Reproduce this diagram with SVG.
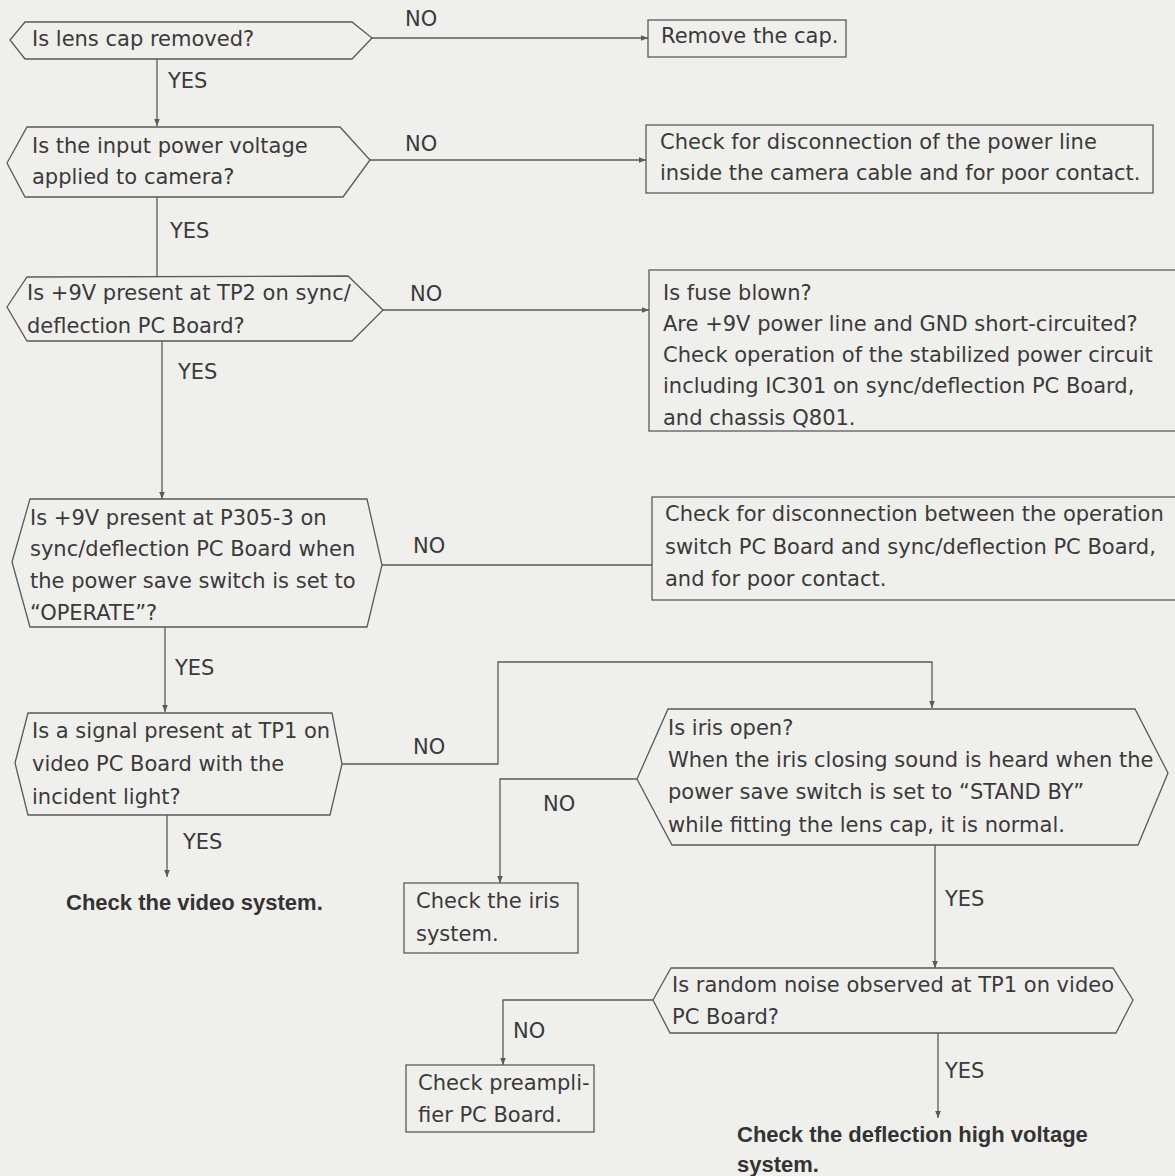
<svg xmlns="http://www.w3.org/2000/svg" width="1175" height="1176" viewBox="0 0 1175 1176">
<defs>
<style>
.bg{fill:#efefec}
.shape{fill:none;stroke:#5a5a5a;stroke-width:1.3}
.t{font-family:"DejaVu Sans","Liberation Sans",Arial,sans-serif;font-size:21px;fill:#3a3a3a}
.lbl{font-family:"DejaVu Sans","Liberation Sans",Arial,sans-serif;font-size:21px;fill:#3a3a3a}
.b{font-family:"Liberation Sans",Arial,sans-serif;font-size:22px;font-weight:bold;fill:#333}
.c{fill:none;stroke:#5a5a5a;stroke-width:1.3}
</style>
<marker id="ah" viewBox="0 0 10 10" refX="10" refY="5" markerWidth="7" markerHeight="7" markerUnits="userSpaceOnUse" orient="auto">
<path d="M0,1 L10,5 L0,9 Z" fill="#5a5a5a"/>
</marker>
</defs>
<rect class="bg" x="0" y="0" width="1175" height="1176"/>

<g id="connectors">
<path class="c" d="M157,59 V126" marker-end="url(#ah)"/>
<path class="c" d="M372,38 H648" marker-end="url(#ah)"/>
<path class="c" d="M370,160 H646" marker-end="url(#ah)"/>
<path class="c" d="M157,197 V277"/>
<path class="c" d="M383,310 H649" marker-end="url(#ah)"/>
<path class="c" d="M162,341 V499" marker-end="url(#ah)"/>
<path class="c" d="M382,565 H652"/>
<path class="c" d="M165,627 V712" marker-end="url(#ah)"/>
<path class="c" d="M167,815 V877" marker-end="url(#ah)"/>
<path class="c" d="M342,764 H498 V662 H932 V708" marker-end="url(#ah)"/>
<path class="c" d="M637,779 H500 V883" marker-end="url(#ah)"/>
<path class="c" d="M935,845 V968" marker-end="url(#ah)"/>
<path class="c" d="M653,1000 H503 V1065" marker-end="url(#ah)"/>
<path class="c" d="M938,1033 V1118" marker-end="url(#ah)"/>
<text class="lbl" x="168" y="88">YES</text>
<text class="lbl" x="405" y="26">NO</text>
<text class="lbl" x="405" y="151">NO</text>
<text class="lbl" x="170" y="238">YES</text>
<text class="lbl" x="410" y="301">NO</text>
<text class="lbl" x="178" y="379">YES</text>
<text class="lbl" x="413" y="553">NO</text>
<text class="lbl" x="175" y="675">YES</text>
<text class="lbl" x="183" y="849">YES</text>
<text class="lbl" x="413" y="754">NO</text>
<text class="lbl" x="543" y="811">NO</text>
<text class="lbl" x="945" y="906">YES</text>
<text class="lbl" x="513" y="1038">NO</text>
<text class="lbl" x="945" y="1078">YES</text>
</g>

<g id="q1">
<polygon class="shape" points="10,40 25,22 352,22 372,38 352,59 25,59"/>
<text class="t" x="32" y="46">Is lens cap removed?</text>
</g>
<g id="a1">
<rect class="shape" x="648" y="20" width="198" height="37"/>
<text class="t" x="661" y="43">Remove the cap.</text>
</g>
<g id="q2">
<polygon class="shape" points="7,163 27,127 340,127 370,160 343,197 25,197"/>
<text class="t" x="32" y="153">Is the input power voltage</text>
<text class="t" x="32" y="184">applied to camera?</text>
</g>
<g id="a2">
<rect class="shape" x="646" y="125" width="507" height="68"/>
<text class="t" x="660" y="149">Check for disconnection of the power line</text>
<text class="t" x="660" y="180">inside the camera cable and for poor contact.</text>
</g>
<g id="q3">
<polygon class="shape" points="7,307 27,277 348,276 383,310 352,341 27,341"/>
<text class="t" x="27" y="300">Is +9V present at TP2 on sync/</text>
<text class="t" x="27" y="333">deflection PC Board?</text>
</g>
<g id="a3">
<rect class="shape" x="649" y="270" width="530" height="161"/>
<text class="t" x="663" y="300">Is fuse blown?</text>
<text class="t" x="663" y="331">Are +9V power line and GND short-circuited?</text>
<text class="t" x="663" y="362">Check operation of the stabilized power circuit</text>
<text class="t" x="663" y="393">including IC301 on sync/deflection PC Board,</text>
<text class="t" x="663" y="425">and chassis Q801.</text>
</g>
<g id="q4">
<polygon class="shape" points="12,562 30,499 367,499 382,565 367,627 30,627"/>
<text class="t" x="30" y="525">Is +9V present at P305-3 on</text>
<text class="t" x="30" y="556">sync/deflection PC Board when</text>
<text class="t" x="30" y="588">the power save switch is set to</text>
<text class="t" x="30" y="620">“OPERATE”?</text>
</g>
<g id="a4">
<rect class="shape" x="652" y="497" width="527" height="103"/>
<text class="t" x="665" y="521">Check for disconnection between the operation</text>
<text class="t" x="665" y="554">switch PC Board and sync/deflection PC Board,</text>
<text class="t" x="665" y="586">and for poor contact.</text>
</g>
<g id="q5">
<polygon class="shape" points="15,763 28,713 332,713 342,764 330,815 28,815"/>
<text class="t" x="32" y="738">Is a signal present at TP1 on</text>
<text class="t" x="32" y="771">video PC Board with the</text>
<text class="t" x="32" y="804">incident light?</text>
</g>
<g id="end1">
<text class="b" x="66" y="910">Check the video system.</text>
</g>
<g id="q6">
<polygon class="shape" points="637,779 668,709 1135,709 1168,773 1138,845 672,845"/>
<text class="t" x="668" y="735">Is iris open?</text>
<text class="t" x="668" y="767">When the iris closing sound is heard when the</text>
<text class="t" x="668" y="799">power save switch is set to “STAND BY”</text>
<text class="t" x="668" y="832">while fitting the lens cap, it is normal.</text>
</g>
<g id="a6">
<rect class="shape" x="404" y="883" width="174" height="70"/>
<text class="t" x="416" y="908">Check the iris</text>
<text class="t" x="416" y="941">system.</text>
</g>
<g id="q7">
<polygon class="shape" points="653,1000 671,968 1113,968 1133,1000 1116,1033 670,1033"/>
<text class="t" x="672" y="992">Is random noise observed at TP1 on video</text>
<text class="t" x="672" y="1024">PC Board?</text>
</g>
<g id="a7">
<rect class="shape" x="406" y="1065" width="188" height="67"/>
<text class="t" x="418" y="1090">Check preampli-</text>
<text class="t" x="418" y="1122">fier PC Board.</text>
</g>
<g id="end2">
<text class="b" x="737" y="1142">Check the deflection high voltage</text>
<text class="b" x="737" y="1172">system.</text>
</g>
</svg>
